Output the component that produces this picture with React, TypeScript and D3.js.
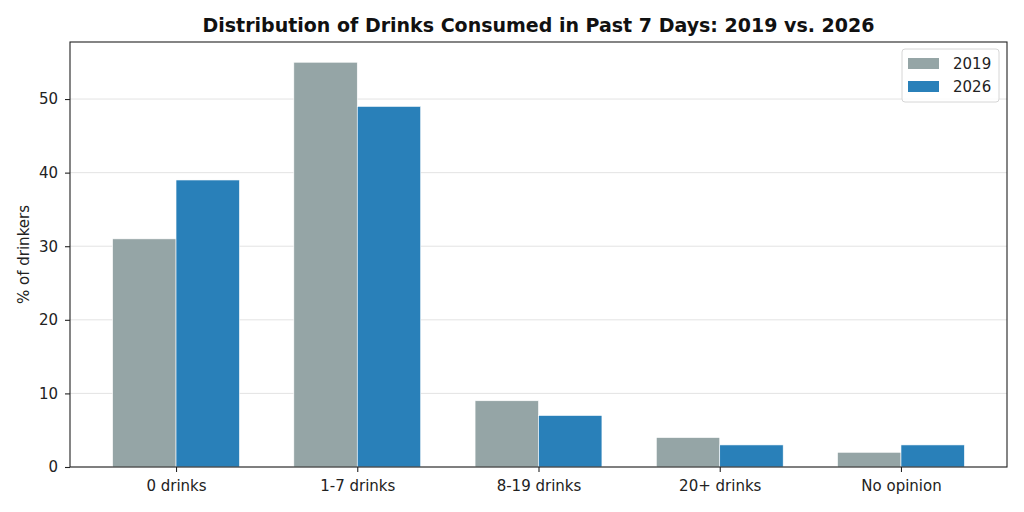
import * as d3 from "d3";
import { useEffect, useRef } from "react";

const categories: string[] = ["0 drinks", "1-7 drinks", "8-19 drinks", "20+ drinks", "No opinion"];
const series2019: number[] = [31, 55, 9, 4, 2];
const series2026: number[] = [39, 49, 7, 3, 3];
const yTicks: number[] = [0, 10, 20, 30, 40, 50];

export default function App() {
  const width = 1024;
  const height = 512;
  const marginTop = 42;
  const marginRight = 17;
  const marginBottom = 45;
  const marginLeft = 70;

  const svgRef = useRef<SVGSVGElement>(null);

  useEffect(() => {
    const svgEl = d3.select(svgRef.current);
    svgEl.selectAll("*").remove();

    const barW = 0.35;
    const xScale = d3.scaleLinear([-0.585, categories.length - 1 + 0.585], [marginLeft, width - marginRight]);
    const yScale = d3.scaleLinear([0, 57.75], [height - marginBottom, marginTop]);

    const font = "DejaVu Sans, sans-serif";

    // grid
    svgEl.append("g")
      .selectAll("line")
      .data(yTicks)
      .join("line")
      .attr("x1", marginLeft)
      .attr("x2", width - marginRight)
      .attr("y1", d => yScale(d))
      .attr("y2", d => yScale(d))
      .attr("stroke", "#dcdcdc")
      .attr("stroke-width", 0.8);

    const series = [
      { name: "2019", values: series2019, color: "#95a5a6", offset: -barW / 2 },
      { name: "2026", values: series2026, color: "#2980b9", offset: barW / 2 },
    ];

    series.forEach(s => {
      svgEl.append("g")
        .selectAll("rect")
        .data(s.values)
        .join("rect")
        .attr("x", (d, i) => xScale(i + s.offset - barW / 2))
        .attr("width", xScale(barW) - xScale(0))
        .attr("y", d => yScale(d))
        .attr("height", d => yScale(0) - yScale(d))
        .attr("fill", s.color)
        .attr("stroke", "white")
        .attr("stroke-width", 0.6);
    });

    // axes
    const xAxis = d3.axisBottom(xScale)
      .tickValues(d3.range(categories.length))
      .tickFormat((d) => categories[d as number])
      .tickSize(5)
      .tickPadding(8)
      .tickSizeOuter(0);
    const yAxis = d3.axisLeft(yScale)
      .tickValues(yTicks)
      .tickSize(5)
      .tickPadding(7)
      .tickSizeOuter(0);

    const gx = svgEl.append("g")
      .attr("transform", `translate(0, ${height - marginBottom})`)
      .call(xAxis);
    const gy = svgEl.append("g")
      .attr("transform", `translate(${marginLeft}, 0)`)
      .call(yAxis);

    [gx, gy].forEach(g => {
      g.select(".domain").remove();
      g.selectAll("line").attr("stroke", "#222").attr("stroke-width", 1.1);
      g.selectAll("text")
        .attr("font-family", font)
        .attr("font-size", 15)
        .attr("fill", "#222");
    });

    // frame
    svgEl.append("rect")
      .attr("x", marginLeft)
      .attr("y", marginTop)
      .attr("width", width - marginLeft - marginRight)
      .attr("height", height - marginTop - marginBottom)
      .attr("fill", "none")
      .attr("stroke", "#222")
      .attr("stroke-width", 1.1);

    // title
    svgEl.append("text")
      .attr("x", (marginLeft + width - marginRight) / 2)
      .attr("y", 32)
      .attr("text-anchor", "middle")
      .attr("font-family", font)
      .attr("font-weight", "bold")
      .attr("font-size", 19)
      .attr("fill", "#111")
      .text("Distribution of Drinks Consumed in Past 7 Days: 2019 vs. 2026");

    // y label
    svgEl.append("text")
      .attr("transform", `translate(29, ${(marginTop + height - marginBottom) / 2}) rotate(-90)`)
      .attr("text-anchor", "middle")
      .attr("font-family", font)
      .attr("font-size", 15)
      .attr("fill", "#222")
      .text("% of drinkers");

    // legend
    const lg = svgEl.append("g").attr("transform", "translate(902, 49)");
    lg.append("rect")
      .attr("width", 97)
      .attr("height", 53)
      .attr("rx", 3)
      .attr("fill", "white")
      .attr("fill-opacity", 0.85)
      .attr("stroke", "#d6d6d6");
    series.forEach((s, i) => {
      lg.append("rect")
        .attr("x", 6)
        .attr("y", 9 + i * 23)
        .attr("width", 31)
        .attr("height", 11)
        .attr("fill", s.color);
      lg.append("text")
        .attr("x", 51)
        .attr("y", 20 + i * 23)
        .attr("font-family", font)
        .attr("font-size", 15)
        .attr("fill", "#222")
        .text(s.name);
    });
  }, []);

  return (
    <svg
      ref={svgRef}
      width={width}
      height={height}
      style={{ position: "absolute", left: 0, top: 0, background: "white" }}
      xmlns="http://www.w3.org/2000/svg"
    />
  );
}
